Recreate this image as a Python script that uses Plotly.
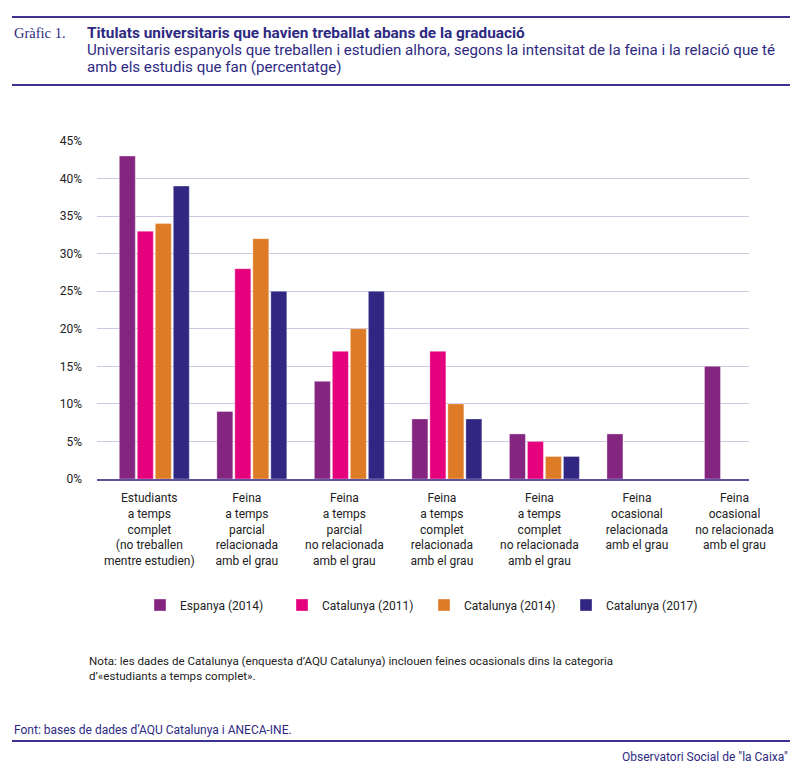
import plotly.graph_objects as go

categories = [
    "Estudiants<br>a temps<br>complet<br>(no treballen<br>mentre estudien)",
    "Feina<br>a temps<br>parcial<br>relacionada<br>amb el grau",
    "Feina<br>a temps<br>parcial<br>no relacionada<br>amb el grau",
    "Feina<br>a temps<br>complet<br>relacionada<br>amb el grau",
    "Feina<br>a temps<br>complet<br>no relacionada<br>amb el grau",
    "Feina<br>ocasional<br>relacionada<br>amb el grau",
    "Feina<br>ocasional<br>no relacionada<br>amb el grau",
]
series_names = ["Espanya (2014)", "Catalunya (2011)", "Catalunya (2014)", "Catalunya (2017)"]
espanya_2014 = [43, 9, 13, 8, 6, 6, 15]
catalunya_2011 = [33, 28, 17, 17, 5, 0, 0]
catalunya_2014 = [34, 32, 20, 10, 3, 0, 0]
catalunya_2017 = [39, 25, 25, 8, 3, 0, 0]
series_values = [espanya_2014, catalunya_2011, catalunya_2014, catalunya_2017]
colors = ["#84267F", "#E5007D", "#DE7B27", "#312783"]
y_ticks = [0, 5, 10, 15, 20, 25, 30, 35, 40, 45]
y_ticklabels = [f"{v}%" for v in y_ticks]

W, H = 800, 768
L, R, T, B = 97, 749, 141, 479
NAVY = "#2E2A82"
FONT = "Roboto"


def px(X):
    return (X - L) / (R - L)


def py(Y):
    return (B - Y) / (B - T)


fig = go.Figure()
for name, vals, col in zip(series_names, series_values, colors):
    fig.add_trace(go.Bar(
        name=name, x=categories, y=vals,
        marker=dict(color=col, line=dict(color="rgba(255,255,255,0.35)", width=1)),
    ))

shapes = []
for Y in (17, 85, 741):
    shapes.append(dict(type="line", xref="paper", yref="paper",
                       x0=px(12), x1=px(790), y0=py(Y), y1=py(Y),
                       line=dict(color="#3D3290", width=2)))

annotations = [
    dict(text="Gràfic 1.", x=px(12), y=py(33), xanchor="left", yanchor="middle",
         font=dict(family="Liberation Serif", size=14.5, color=NAVY)),
    dict(text="<b>Titulats universitaris que havien treballat abans de la graduació</b>",
         x=px(85), y=py(33), xanchor="left", yanchor="middle",
         font=dict(family=FONT, size=15.4, color=NAVY)),
    dict(text="Universitaris espanyols que treballen i estudien alhora, segons la intensitat de la feina i la relació que té",
         x=px(85), y=py(50), xanchor="left", yanchor="middle",
         font=dict(family=FONT, size=15.1, color=NAVY)),
    dict(text="amb els estudis que fan (percentatge)",
         x=px(85), y=py(67), xanchor="left", yanchor="middle",
         font=dict(family=FONT, size=15.1, color=NAVY)),
    dict(text="Nota: les dades de Catalunya (enquesta d’AQU Catalunya) inclouen feines ocasionals dins la categoria<br>d’«estudiants a temps complet».",
         x=px(87), y=py(652), xanchor="left", yanchor="top", align="left",
         font=dict(family=FONT, size=11.6, color="#222222")),
    dict(text="Font: bases de dades d’AQU Catalunya i ANECA-INE.",
         x=px(12), y=py(730), xanchor="left", yanchor="middle",
         font=dict(family=FONT, size=12, color=NAVY)),
    dict(text="Observatori Social de \"la Caixa\"",
         x=px(790), y=py(757), xanchor="right", yanchor="middle",
         font=dict(family=FONT, size=12, color=NAVY)),
]
for a in annotations:
    a.update(xref="paper", yref="paper", showarrow=False)

fig.update_layout(
    width=W, height=H,
    margin=dict(l=L, r=W - R, t=T, b=H - B, pad=0),
    paper_bgcolor="white", plot_bgcolor="white",
    barmode="group", bargap=0.262, bargroupgap=0.111,
    font=dict(family=FONT, size=12, color="#222222"),
    showlegend=True,
    legend=dict(orientation="h", x=px(140), y=py(605), xanchor="left", yanchor="middle",
                font=dict(family=FONT, size=12, color="#222222"),
                itemwidth=30, entrywidth=97, entrywidthmode="pixels",
                bgcolor="rgba(0,0,0,0)", traceorder="normal"),
    shapes=shapes, annotations=annotations,
)
fig.update_xaxes(
    type="category", range=[-0.5875, 6.0977], showgrid=False,
    showline=True, linecolor="#5E519F", linewidth=2,
    ticks="", ticklabelstandoff=7, ticklabelshift=-5,
    tickfont=dict(family=FONT, size=12, color="#222222"), fixedrange=True,
)
fig.update_yaxes(
    range=[0, 45], tickvals=y_ticks, ticktext=y_ticklabels,
    showgrid=True, gridcolor="#CDC8E0", gridwidth=1, zeroline=False,
    showline=False, ticks="", ticklabelstandoff=14,
    tickfont=dict(family=FONT, size=12, color="#222222"), fixedrange=True,
)

fig.write_html("out.html", config={"displayModeBar": False},
               post_script="document.body.style.margin='0';document.body.style.overflow='hidden';")
